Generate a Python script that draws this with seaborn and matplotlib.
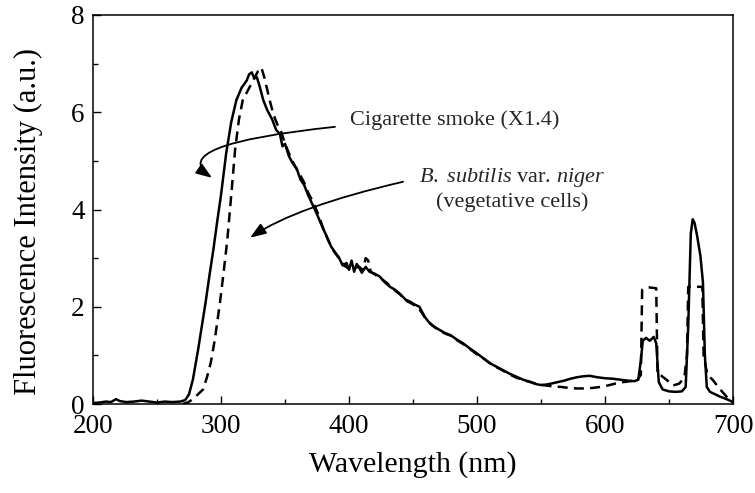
import matplotlib.pyplot as plt
import seaborn as sns
import pandas as pd
from matplotlib.ticker import MultipleLocator

# cigarette smoke spectrum (solid line, scaled x1.4)
wl_smoke = [200, 205, 210, 214, 218, 221, 226, 232, 238, 244, 250, 256, 262, 268,
            272, 275, 278, 282, 285, 288, 291, 294, 297, 300, 304, 308, 312, 316,
            320, 322, 324, 326, 328, 330, 333, 336, 340, 343, 346, 348, 350, 353,
            356, 359, 362, 365, 368, 371, 375, 379, 382, 386, 389, 392, 395, 398,
            400, 402, 404, 406, 408, 410, 413, 416, 420, 424, 428, 432, 436, 440,
            444, 448, 451, 455, 459, 463, 467, 471, 475, 479, 484, 489, 494, 500,
            505, 510, 515, 520, 525, 531, 536, 541, 546, 550, 554, 558, 563, 568,
            573, 578, 583, 588, 594, 600, 606, 612, 618, 623, 626, 628, 629.5, 632,
            635, 638, 640, 642, 645, 650, 655, 660, 663, 665, 667, 668.5, 670, 672,
            674.5, 676.5, 678, 679.5, 682, 686, 690, 695, 700]
int_smoke = [0.02, 0.03, 0.05, 0.04, 0.10, 0.06, 0.04, 0.05, 0.07, 0.05, 0.03, 0.05, 0.04, 0.05,
             0.08, 0.20, 0.50, 1.10, 1.60, 2.10, 2.65, 3.17, 3.75, 4.30, 5.15, 5.80, 6.25, 6.50,
             6.65, 6.78, 6.82, 6.70, 6.72, 6.55, 6.25, 6.05, 5.85, 5.64, 5.55, 5.30, 5.35, 5.10,
             4.95, 4.85, 4.62, 4.50, 4.30, 4.13, 3.90, 3.65, 3.48, 3.24, 3.12, 3.02, 2.85, 2.90,
             2.76, 2.95, 2.72, 2.88, 2.80, 2.70, 2.82, 2.72, 2.68, 2.62, 2.50, 2.41, 2.35, 2.26,
             2.15, 2.10, 2.05, 2.00, 1.80, 1.66, 1.58, 1.52, 1.46, 1.42, 1.33, 1.25, 1.15, 1.04,
             0.94, 0.84, 0.77, 0.70, 0.63, 0.56, 0.50, 0.46, 0.41, 0.39, 0.40, 0.42, 0.45, 0.48,
             0.52, 0.55, 0.57, 0.58, 0.55, 0.53, 0.52, 0.50, 0.48, 0.47, 0.50, 0.90, 1.30, 1.36,
             1.30, 1.38, 1.25, 0.45, 0.30, 0.26, 0.25, 0.26, 0.35, 1.60, 3.50, 3.80, 3.72, 3.45,
             3.05, 2.50, 1.00, 0.35, 0.25, 0.20, 0.15, 0.10, 0.04]

# B. subtilis var. niger, vegetative cells (dashed line)
wl_bsub = [270, 274, 278, 282, 286, 289, 292, 295, 299, 302, 305, 308, 311, 314,
           317, 320, 323, 326, 329, 331.5, 334, 338, 341, 344, 347, 350, 354, 358,
           362, 365, 368, 372, 376, 380, 384, 388, 392, 396, 400, 404, 408, 411,
           413, 415, 417, 421, 425, 430, 435, 440, 445, 450, 455, 460, 465, 470,
           475, 480, 485, 490, 495, 500, 506, 512, 518, 524, 530, 536, 542, 548,
           554, 560, 566, 572, 578, 584, 590, 596, 602, 608, 614, 620, 625, 628,
           629, 634, 640, 641, 644, 648, 653, 658, 662, 664, 665, 676, 677, 680,
           684, 690, 695, 700]
int_bsub = [0.00, 0.03, 0.10, 0.20, 0.30, 0.55, 0.85, 1.30, 2.05, 2.70, 3.40, 4.30, 5.23, 5.85,
            6.25, 6.40, 6.55, 6.70, 6.85, 6.92, 6.70, 6.25, 5.95, 5.75, 5.60, 5.35, 5.10, 4.88,
            4.70, 4.55, 4.35, 4.15, 3.90, 3.60, 3.35, 3.15, 3.00, 2.85, 2.78, 2.80, 2.82, 2.75,
            3.00, 2.95, 2.72, 2.65, 2.58, 2.48, 2.35, 2.25, 2.12, 2.05, 1.95, 1.75, 1.62, 1.52,
            1.45, 1.40, 1.30, 1.22, 1.12, 1.02, 0.92, 0.80, 0.72, 0.63, 0.55, 0.49, 0.45, 0.40,
            0.38, 0.36, 0.35, 0.33, 0.32, 0.32, 0.33, 0.35, 0.38, 0.42, 0.45, 0.47, 0.49, 0.60,
            2.35, 2.40, 2.38, 0.60, 0.58, 0.50, 0.38, 0.42, 0.55, 1.00, 2.41, 2.41, 1.00, 0.60,
            0.50, 0.30, 0.15, 0.03]

sns.set_theme(style="ticks")
plt.rcParams["font.family"] = ["Liberation Serif", "DejaVu Serif"]
plt.rcParams["mathtext.fontset"] = "custom"
plt.rcParams["mathtext.rm"] = "Liberation Serif"
plt.rcParams["mathtext.it"] = "Liberation Serif:italic"

fig, ax = plt.subplots(figsize=(7.55, 4.93), dpi=100)
fig.subplots_adjust(left=0.1232, right=0.9709, bottom=0.1805, top=0.9696)

smoke = pd.DataFrame({"wavelength": wl_smoke, "intensity": int_smoke})
bsub = pd.DataFrame({"wavelength": wl_bsub, "intensity": int_bsub})

sns.lineplot(data=smoke, x="wavelength", y="intensity", color="black", lw=1.8,
             estimator=None, ax=ax)
sns.lineplot(data=bsub, x="wavelength", y="intensity", color="black", lw=1.8,
             linestyle=(0, (4, 2.5)), estimator=None, ax=ax)

ax.set_xlim(200, 700)
ax.set_ylim(0, 8)
ax.xaxis.set_major_locator(MultipleLocator(100))
ax.xaxis.set_minor_locator(MultipleLocator(50))
ax.yaxis.set_major_locator(MultipleLocator(2))
ax.yaxis.set_minor_locator(MultipleLocator(1))
ax.tick_params(which="both", direction="in", top=False, right=False, color="black",
               labelcolor="black", width=1)
ax.tick_params(which="major", length=5.8, labelsize=19.5)
ax.tick_params(which="minor", length=3.6)
ax.tick_params(axis="x", pad=7)
ax.tick_params(axis="y", pad=6)
for sp in ax.spines.values():
    sp.set_visible(True)
    sp.set_color("black")
    sp.set_linewidth(1.1)

ax.set_xlabel("Wavelength (nm)", fontsize=21.5, color="black", labelpad=9)
ax.set_ylabel("Fluorescence Intensity (a.u.)", fontsize=22, color="black")
ax.yaxis.set_label_coords(-0.078, 0.468)

# annotations
ax.text(400.8, 5.74, "Cigarette smoke (X1.4)", fontsize=16, va="baseline", ha="left")
ax.text(527.3, 4.57, r"$\mathit{B.\ subtilis}$ var. $\mathit{niger}$", fontsize=16,
        va="baseline", ha="center")
ax.text(527.3, 4.06, "(vegetative cells)", fontsize=16, va="baseline", ha="center")

arrow = dict(arrowstyle="-|>,head_length=0.6,head_width=0.22", color="black", lw=1.3,
             shrinkA=0, shrinkB=0, mutation_scale=16)
ax.annotate("", xy=(293, 4.65), xytext=(389, 5.70),
            arrowprops=dict(arrow, connectionstyle="angle3,angleA=6,angleB=-35"))
ax.annotate("", xy=(322.7, 3.42), xytext=(442.2, 4.57),
            arrowprops=dict(arrow, connectionstyle="angle3,angleA=13,angleB=34"))

fig.savefig("out.png", dpi=100, facecolor="white")
